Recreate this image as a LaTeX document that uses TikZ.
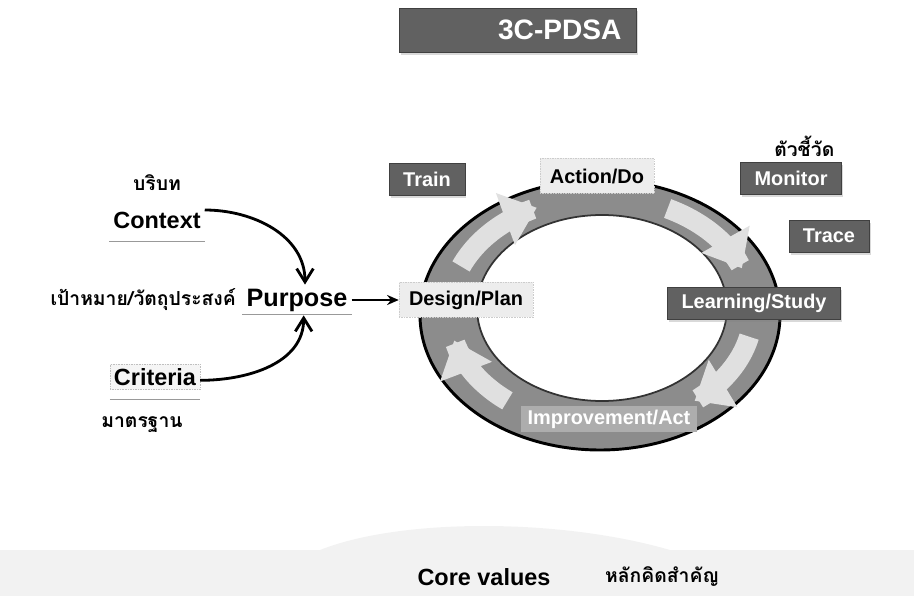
\documentclass[tikz,border=0pt]{standalone}
\usepackage{fontspec}
\setmainfont{Liberation Sans}
\newfontfamily\thaifont[Script=Thai]{Loma}
\usetikzlibrary{arrows.meta,
                  calc,
                  positioning,
                  shadows}

\begin{document}
\begin{tikzpicture}[x=0.03cm, y=-0.03cm, every node/.style={font=\bfseries}, >=Stealth]
    \tikzset{
    titlebox/.style={fill=black!62, draw=black!75, text=white, align=right, text width=6.21cm, inner xsep=0.45cm, minimum height=1.32cm, font=\fontsize{24}{28}\selectfont\bfseries, drop shadow={opacity=0.3, shadow xshift=0.05cm, shadow yshift=-0.1cm}},
    darkbox/.style={fill=black!62, draw=black!75, text=white, inner xsep=0.42cm, minimum height=0.95cm, font=\fontsize{17}{20}\selectfont\bfseries, drop shadow={opacity=0.3, shadow xshift=0.05cm, shadow yshift=-0.1cm}},
    lightbox/.style={fill=black!7, draw=black!20, densely dotted, inner xsep=0.3cm, minimum height=1.05cm, font=\fontsize{17}{20}\selectfont\bfseries},
    ringlabel/.style={fill=black!32, text=white, inner xsep=0.2cm, minimum height=0.66cm, font=\fontsize{17}{20}\selectfont\bfseries},
    keyword/.style={font=\fontsize{20}{24}\selectfont\bfseries},
    thai/.style={font=\fontsize{16.5}{19}\selectfont\thaifont\bfseries},
    underline/.style={draw=black!40, line width=0.8pt},
    bendarrow/.style={draw, line width=2.4pt, -{Straight Barb[length=0.4cm, width=0.5cm, line width=2.4pt]}},
    line/.style={draw, line width=2pt, -{Stealth[length=0.35cm, width=0.3cm]}},
    ringarrow/.style={draw=black!12, line width=0.6cm, -{Triangle[length=1.0cm, width=1.6cm]}}
}
\useasboundingbox (0,0) rectangle (914,596);

% stippled ground
\fill[black!5] (0,550) -- (320,550) .. controls (400,518) and (560,518) .. (670,550) -- (914,550) -- (914,596) -- (0,596) -- cycle;

\node [titlebox] (title) at (518,30) {3C-PDSA};

% ring
\fill[black!45, even odd rule] (600,315) ellipse [x radius=180, y radius=135] (602,308) ellipse [x radius=125, y radius=93];
\draw[black, line width=2.5pt] (600,315) ellipse [x radius=180, y radius=135];
\draw[black!80, line width=1.5pt] (602,308) ellipse [x radius=125, y radius=93];

\path [ringarrow] plot[domain=157:115, samples=25] ({601+152*cos(\x)},{311-114*sin(\x)});
\path [ringarrow] plot[domain=64:22, samples=25] ({601+152*cos(\x)},{311-114*sin(\x)});
\path [ringarrow] plot[domain=-13:-52, samples=25] ({601+152*cos(\x)},{311-114*sin(\x)});
\path [ringarrow] plot[domain=-128:-165, samples=25] ({601+152*cos(\x)},{311-114*sin(\x)});

\node [lightbox] (design) at (466,300) {Design/Plan};
\node [lightbox] (action) at (597,176) {Action/Do};
\node [darkbox] (learning) at (754,303) {Learning/Study};
\node [ringlabel] (improve) at (609,419) {Improvement/Act};

\node [darkbox] (train) at (427,179) {Train};
\node [darkbox] (monitor) at (791,178) {Monitor};
\node [darkbox] (trace) at (829,236) {Trace};
\node [thai, above=0.05cm of monitor.north east, anchor=south east, xshift=-0.1cm] (indicator) {ตัวชี้วัด};

% inputs
\node [keyword] (context) at (157,220) {Context};
\node [keyword, font=\fontsize{21.5}{26}\selectfont\bfseries] (purpose) at (297,300) {Purpose};
\node [keyword, fill=black!4, draw=black!25, densely dotted] (criteria) at (155,377) {Criteria};
\node [thai] (contextth) at (157,183) {บริบท};
\node [thai, anchor=east] (purposeth) at (240,300) {เป้าหมาย/วัตถุประสงค์};
\node [thai] (criteriath) at (142,425) {มาตรฐาน};

\draw [underline] ([yshift=-0.4cm]context.base west) -- ([yshift=-0.4cm]context.base east);
\draw [underline] ([yshift=-0.25cm]purpose.base west) -- ([yshift=-0.25cm]purpose.base east);
\draw [underline] ([yshift=-0.42cm]criteria.base west) -- ([yshift=-0.42cm]criteria.base east);

\path [bendarrow] ([yshift=0.3cm]context.east) to[out=0, in=90] ([xshift=0.24cm]purpose.north);
\path [bendarrow] ([yshift=-0.1cm]criteria.east) to[out=0, in=-90] ([xshift=0.2cm]purpose.south);
\path [line] (purpose) -- (design);

% core values
\node [keyword] (core) at (484,577) {Core values};
\node [thai, anchor=west] (coreth) at (601,577) {หลักคิดสำคัญ};

\end{tikzpicture}
\end{document}
